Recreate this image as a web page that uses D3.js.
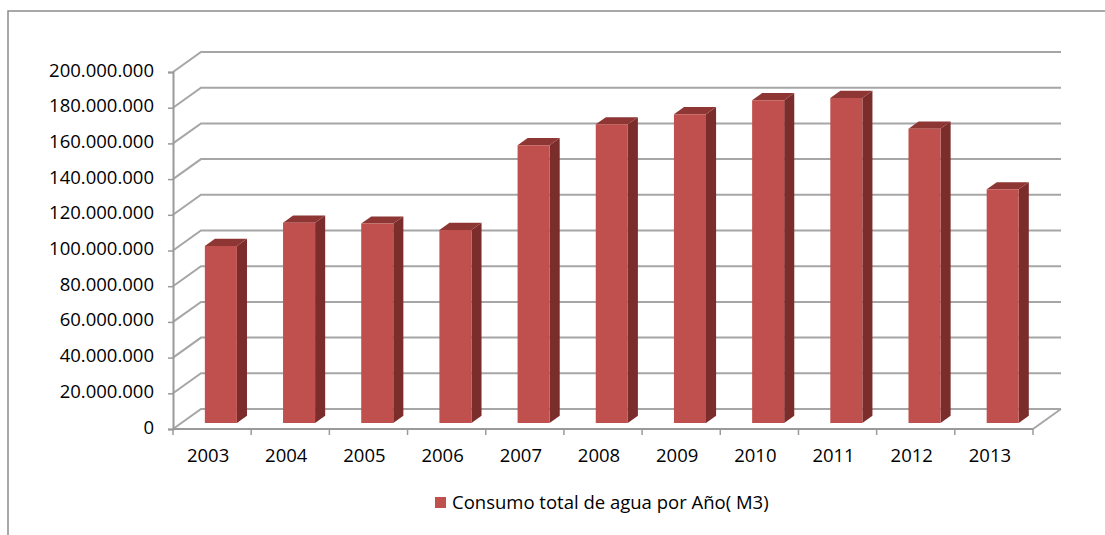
<!DOCTYPE html>
<html>
<head>
<meta charset="utf-8">
<script src="https://cdn.jsdelivr.net/npm/d3@7/dist/d3.min.js"></script>
<style>
  html, body { margin: 0; padding: 0; background: #ffffff; }
  svg { display: block; }
  text { font-family: "Open Sans", "Noto Sans", sans-serif; fill: #000; }
</style>
</head>
<body>
<svg id="chart" width="1105" height="535"></svg>
<script>
// Annual water consumption (m3)
const years = ["2003", "2004", "2005", "2006", "2007", "2008", "2009", "2010", "2011", "2012", "2013"];
const consumo = [99200000, 112200000, 111700000, 108100000, 155600000, 167300000, 173000000, 180800000, 182100000, 164900000, 130900000];
const yTicks = [0, 20000000, 40000000, 60000000, 80000000, 100000000, 120000000, 140000000, 160000000, 180000000, 200000000];
const seriesName = "Consumo total de agua por Año( M3)";

const W = 1105, H = 535;
const svg = d3.select("#chart");

// Front plane of the 3D box, plus the depth offset of the back wall
const depthX = 28, depthY = -20;
const x = d3.scaleBand().domain(years).range([173, 1033]).paddingInner(0).paddingOuter(0);
const y = d3.scaleLinear().domain([0, 200000000]).range([429, 72]);

// project a point at depth z (0 = front, 1 = back wall)
const px = (xv, z) => xv + depthX * z;
const py = (yv, z) => yv + depthY * z;

const es = d3.formatLocale({ decimal: ",", thousands: ".", grouping: [3], currency: ["", ""] });
const fmt = es.format(",d");

const gridColor = "#a6a6a6";
const axisColor = "#9a9a9a";
const fontSize = 18.5;

// Chart frame
svg.append("path")
  .attr("d", `M8,${H} L8,11 L${W},11`)
  .attr("fill", "none").attr("stroke", "#8c8c8c").attr("stroke-width", 1.5);

const [x0, x1] = x.range();

// Back wall gridlines and their diagonals along the left side wall
const grid = svg.append("g");
yTicks.forEach(t => {
  const yf = y(t);
  grid.append("path")
    .attr("d", `M${x0},${yf} L${px(x0, 1)},${py(yf, 1)} L${px(x1, 1)},${py(yf, 1)}`)
    .attr("fill", "none").attr("stroke", gridColor).attr("stroke-width", 2);
});

// Floor: right-hand diagonal edge
svg.append("line")
  .attr("x1", x1).attr("y1", y(0)).attr("x2", px(x1, 1)).attr("y2", py(y(0), 1))
  .attr("stroke", gridColor).attr("stroke-width", 2);

// 3D columns
const zFront = 0.3, zBack = 0.66;
const barStart = 0.30, barFrac = 0.41;
const bars = svg.append("g");
years.forEach((yr, i) => {
  const v = consumo[i];
  const bx0 = x(yr) + x.bandwidth() * barStart;
  const bx1 = bx0 + x.bandwidth() * barFrac;
  const yTop = y(v), yBot = y(0);
  const P = (xx, yy, z) => [px(xx, z), py(yy, z)];
  const poly = pts => "M" + pts.map(p => p.join(",")).join("L") + "Z";
  // right side face
  bars.append("path")
    .attr("d", poly([P(bx1, yBot, zFront), P(bx1, yTop, zFront), P(bx1, yTop, zBack), P(bx1, yBot, zBack)]))
    .attr("fill", "#7b2d2b");
  // top face
  bars.append("path")
    .attr("d", poly([P(bx0, yTop, zFront), P(bx1, yTop, zFront), P(bx1, yTop, zBack), P(bx0, yTop, zBack)]))
    .attr("fill", "#8e3633");
  // front face
  bars.append("path")
    .attr("d", poly([P(bx0, yBot, zFront), P(bx1, yBot, zFront), P(bx1, yTop, zFront), P(bx0, yTop, zFront)]))
    .attr("fill", "#c0504d");
});

// Value axis on the front plane
const yAxis = d3.axisLeft(y).tickValues(yTicks).tickFormat(fmt).tickSize(5).tickPadding(14);
const gy = svg.append("g").attr("transform", `translate(${x0},0)`).call(yAxis);
gy.select(".domain").attr("stroke", axisColor).attr("stroke-width", 2);
gy.selectAll(".tick line").attr("stroke", axisColor).attr("stroke-width", 1.5);
gy.selectAll(".tick text").attr("font-size", fontSize).attr("font-family", "Open Sans, sans-serif").attr("fill", "#000").attr("dy", "0.22em");

// Category axis along the front edge of the floor
const gx = svg.append("g");
gx.append("line")
  .attr("x1", x0).attr("x2", x1).attr("y1", y(0)).attr("y2", y(0))
  .attr("stroke", axisColor).attr("stroke-width", 2);
const boundaries = years.map(yr => x(yr)).concat([x1]);
gx.selectAll("line.tk").data(boundaries).join("line").attr("class", "tk")
  .attr("x1", d => d).attr("x2", d => d).attr("y1", y(0)).attr("y2", y(0) + 6)
  .attr("stroke", axisColor).attr("stroke-width", 1.5);
gx.selectAll("text").data(years).join("text")
  .attr("x", d => x(d) + x.bandwidth() / 2 - 4)
  .attr("y", 462)
  .attr("text-anchor", "middle")
  .attr("font-size", fontSize)
  .text(d => d);

// Legend
const lg = svg.append("g");
lg.append("rect").attr("x", 435).attr("y", 497).attr("width", 11).attr("height", 11).attr("fill", "#c0504d");
lg.append("text").attr("x", 452).attr("y", 509).attr("font-size", fontSize).text(seriesName);
</script>
</body>
</html>
